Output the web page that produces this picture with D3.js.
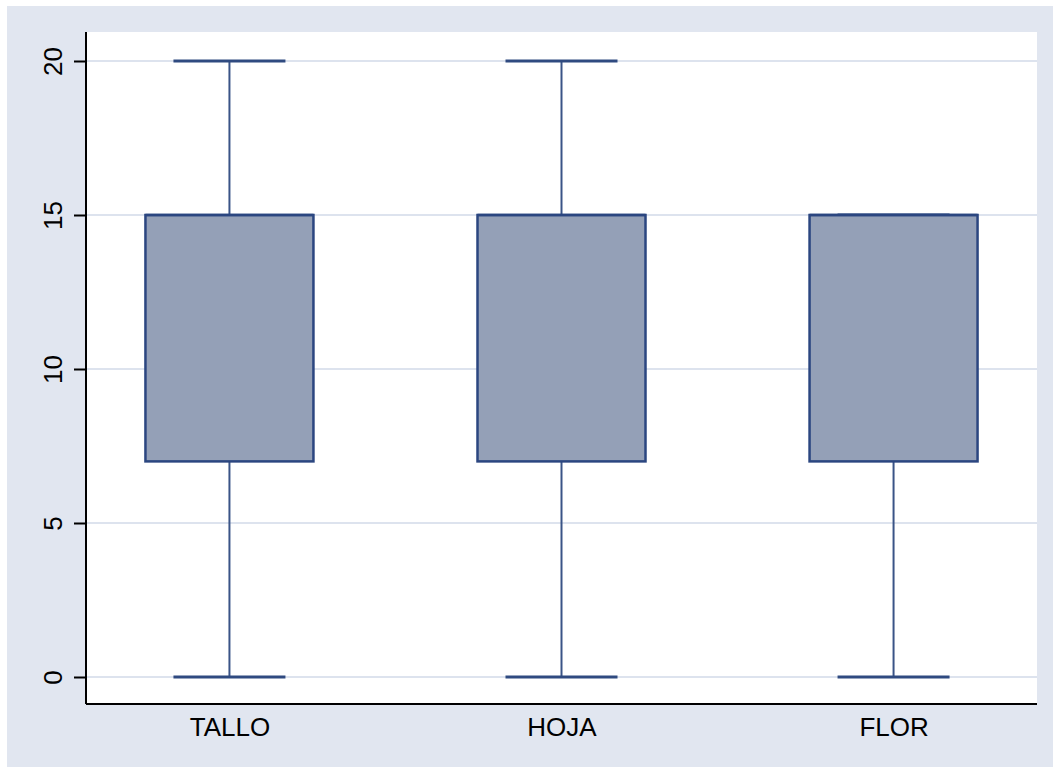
<!DOCTYPE html>
<html>
<head>
<meta charset="utf-8">
<script src="https://cdn.jsdelivr.net/npm/d3@7"></script>
<style>
  body { margin: 0; background: #fff; }
  svg { display: block; }
</style>
</head>
<body>
<svg width="1053" height="767"></svg>
<script>
// box plot data
var categories = ["TALLO", "HOJA", "FLOR"];
var mins    = [0, 0, 0];
var q1s     = [7, 7, 7];
var medians = [15, 15, 15];
var q3s     = [15, 15, 15];
var maxs    = [20, 20, 15];
var yTicks  = [0, 5, 10, 15, 20];

var data = categories.map(function(c, i) {
	return { cat: c, min: mins[i], q1: q1s[i], med: medians[i], q3: q3s[i], max: maxs[i] };
});

var svg = d3.select("svg");
var plotL = 86, plotR = 1037, plotT = 32, plotB = 704;

// background
svg.append("rect").attr("x", 7).attr("y", 6).attr("width", 1046).attr("height", 761)
	.attr("fill", "#e1e6f0");
svg.append("rect").attr("x", plotL).attr("y", plotT).attr("width", plotR - plotL).attr("height", plotB - plotT)
	.attr("fill", "#ffffff");

var y = d3.scaleLinear().domain([0, 20]).range([677, 61]);
var x = d3.scalePoint().domain(categories).range([plotL, plotR]).padding(0.432);
var boxW = 168, capW = 112;

// gridlines
svg.append("g").selectAll("line").data(yTicks).enter().append("line")
	.attr("x1", plotL).attr("x2", plotR)
	.attr("y1", function(d) { return y(d); }).attr("y2", function(d) { return y(d); })
	.attr("stroke", "#dde3ee").attr("stroke-width", 2);

// y axis
var yAxis = svg.append("g")
	.attr("transform", "translate(" + plotL + ",0)")
	.call(d3.axisLeft(y).tickValues(yTicks).tickSize(12).tickPadding(0).tickFormat(d3.format("d")));
yAxis.select(".domain").attr("d", "M0," + plotT + "V" + plotB).attr("stroke", "#000").attr("stroke-width", 2);
yAxis.selectAll(".tick line").attr("stroke", "#000").attr("stroke-width", 2);
yAxis.selectAll(".tick text")
	.attr("font-family", "Liberation Sans, Arial, sans-serif").attr("font-size", 26).attr("fill", "#000")
	.attr("x", 0).attr("dy", 0).attr("text-anchor", "middle")
	.attr("transform", "translate(-24,0) rotate(-90)");

// x axis
var xAxis = svg.append("g")
	.attr("transform", "translate(0," + plotB + ")")
	.call(d3.axisBottom(x).tickSize(0).tickPadding(14));
xAxis.select(".domain").attr("d", "M" + plotL + ",0H" + plotR).attr("stroke", "#000").attr("stroke-width", 2);
xAxis.selectAll(".tick text")
	.attr("font-family", "Liberation Sans, Arial, sans-serif").attr("font-size", 26).attr("fill", "#000")
	.attr("dy", "0.71em");

// whiskers
var g = svg.append("g");
var whiskerColor = "#3a5487";
g.selectAll(".whisk-up").data(data).enter().append("line")
	.attr("x1", function(d) { return x(d.cat); }).attr("x2", function(d) { return x(d.cat); })
	.attr("y1", function(d) { return y(d.q3); }).attr("y2", function(d) { return y(d.max); })
	.attr("stroke", whiskerColor).attr("stroke-width", 2);
g.selectAll(".whisk-down").data(data).enter().append("line")
	.attr("x1", function(d) { return x(d.cat); }).attr("x2", function(d) { return x(d.cat); })
	.attr("y1", function(d) { return y(d.q1); }).attr("y2", function(d) { return y(d.min); })
	.attr("stroke", whiskerColor).attr("stroke-width", 2);
g.selectAll(".cap-up").data(data).enter().append("line")
	.attr("x1", function(d) { return x(d.cat) - capW / 2; }).attr("x2", function(d) { return x(d.cat) + capW / 2; })
	.attr("y1", function(d) { return y(d.max); }).attr("y2", function(d) { return y(d.max); })
	.attr("stroke", "#2f4a80").attr("stroke-width", 3);
g.selectAll(".cap-down").data(data).enter().append("line")
	.attr("x1", function(d) { return x(d.cat) - capW / 2; }).attr("x2", function(d) { return x(d.cat) + capW / 2; })
	.attr("y1", function(d) { return y(d.min); }).attr("y2", function(d) { return y(d.min); })
	.attr("stroke", "#2f4a80").attr("stroke-width", 3);

// boxes
g.selectAll(".box").data(data).enter().append("rect")
	.attr("x", function(d) { return x(d.cat) - boxW / 2; })
	.attr("y", function(d) { return y(d.q3); })
	.attr("width", boxW)
	.attr("height", function(d) { return y(d.q1) - y(d.q3); })
	.attr("fill", "#94a0b7").attr("stroke", "#2b4680").attr("stroke-width", 2.5);

// medians
g.selectAll(".median").data(data).enter().append("line")
	.attr("x1", function(d) { return x(d.cat) - boxW / 2; }).attr("x2", function(d) { return x(d.cat) + boxW / 2; })
	.attr("y1", function(d) { return y(d.med); }).attr("y2", function(d) { return y(d.med); })
	.attr("stroke", "#2b4680").attr("stroke-width", 2.5);
</script>
</body>
</html>
